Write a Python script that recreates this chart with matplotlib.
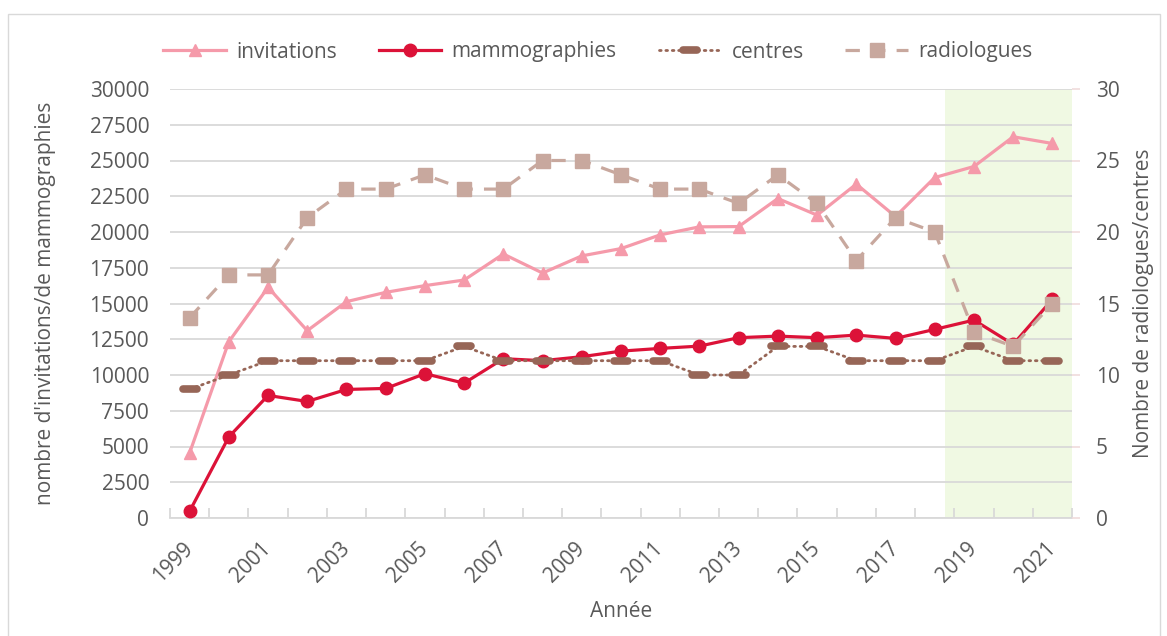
import matplotlib
matplotlib.use("Agg")
import matplotlib.pyplot as plt
from matplotlib.markers import MarkerStyle
from matplotlib.patches import Rectangle

plt.rcParams['font.family'] = ['Open Sans', 'DejaVu Sans']

years = list(range(1999, 2022))
invitations = [4550, 12330, 16130, 13100, 15130, 15780, 16250, 16640, 18460, 17130,
               18330, 18840, 19800, 20360, 20380, 22340, 21180, 23350, 21080, 23810,
               24580, 26660, 26190]
mammographies = [470, 5670, 8570, 8150, 8990, 9060, 10090, 9430, 11140, 11000,
                 11280, 11670, 11860, 12020, 12610, 12720, 12610, 12790, 12560, 13190,
                 13840, 12140, 15290]
centres = [9, 10, 11, 11, 11, 11, 11, 12, 11, 11,
           11, 11, 11, 10, 10, 12, 12, 11, 11, 11,
           12, 11, 11]
radiologues = [14, 17, 17, 21, 23, 23, 24, 23, 23, 25,
               25, 24, 23, 23, 22, 24, 22, 18, 21, 20,
               13, 12, 15]
left_ticks = list(range(0, 30001, 2500))
right_ticks = list(range(0, 31, 5))
shade_start_index = 19.25

W, H = 1167, 636
FS = 15
fig = plt.figure(figsize=(W / 100, H / 100), dpi=100)
ax = fig.add_axes([170 / W, 1 - 518 / H, (1072 - 170) / W, (518 - 89) / H])
ax2 = ax.twinx()

txt = '#595959'
grid = '#D9D9D9'
x = list(range(len(years)))

ax.axvspan(shade_start_index, len(years) - 0.5, color='#F0F9E3', zorder=0.1, lw=0)

ax.plot(x, invitations, color='#F59AAA', lw=2.3, marker='^', ms=9, zorder=3,
        label='invitations')
ax.plot(x, mammographies, color='#DC1238', lw=2.3, marker='o', ms=9, zorder=3,
        label='mammographies')
ax2.plot(x, centres, color='#976657', lw=2.0, ls=(0, (0.6, 1.7)), dash_capstyle='round',
         marker=MarkerStyle('_', capstyle='round'), ms=10, mew=5.5, zorder=3,
         label='centres')
ax2.plot(x, radiologues, color='#C8A89E', lw=2.3, ls=(0, (4.5, 3.5)),
         marker='s', ms=9.5, zorder=3, label='radiologues')

ax.set_xlim(-0.5, len(years) - 0.5)
ax.set_ylim(0, 30000)
ax2.set_ylim(0, 30)
ax.set_yticks(left_ticks)
ax.set_yticklabels([str(v) for v in left_ticks])
ax2.set_yticks(right_ticks)

ax.set_xticks(x)
ax.set_xticklabels([str(y) if (y - 1999) % 2 == 0 else '' for y in years],
                   rotation=45, ha='right', va='center', rotation_mode='anchor')
ax.set_xticks([i - 0.5 for i in range(len(years) + 1)], minor=True)
ax.tick_params(axis='x', which='major', length=0, pad=20, labelsize=FS, labelcolor=txt)
ax.tick_params(axis='x', which='minor', direction='in', length=7, color=grid, width=1.3)
ax.tick_params(axis='y', length=0, pad=15, labelsize=FS, labelcolor=txt)
ax2.tick_params(axis='y', length=6, color='#F0DCDC', width=1.2, pad=11,
                labelsize=FS, labelcolor=txt)

ax.set_axisbelow(True)
ax.grid(axis='y', color=grid, lw=1.3)
for s in ['top', 'left', 'right']:
    ax.spines[s].set_visible(False)
    ax2.spines[s].set_visible(False)
ax.spines['bottom'].set_color(grid)
ax.spines['bottom'].set_linewidth(1.3)
ax2.spines['bottom'].set_visible(False)

ax.set_xlabel('Année', fontsize=FS, color=txt, labelpad=10)
ax.set_ylabel("nombre d'invitations/de mammographies", fontsize=FS, color=txt, labelpad=24)
ax2.set_ylabel('Nombre de radiologues/centres', fontsize=FS, color=txt, labelpad=10)

h1, l1 = ax.get_legend_handles_labels()
h2, l2 = ax2.get_legend_handles_labels()
fig.legend(h1 + h2, l1 + l2, loc='center', bbox_to_anchor=(598 / W, 1 - 52 / H),
           ncol=4, frameon=False, fontsize=FS, labelcolor=txt, handlelength=3.0,
           columnspacing=2.0, handletextpad=0.5)

fig.patches.append(Rectangle((8 / W, -0.1), (1160 - 8) / W, 1.1 - 14 / H,
                             transform=fig.transFigure, fill=False,
                             edgecolor='#D9D9D9', lw=1))

fig.savefig('out.png', dpi=100)
